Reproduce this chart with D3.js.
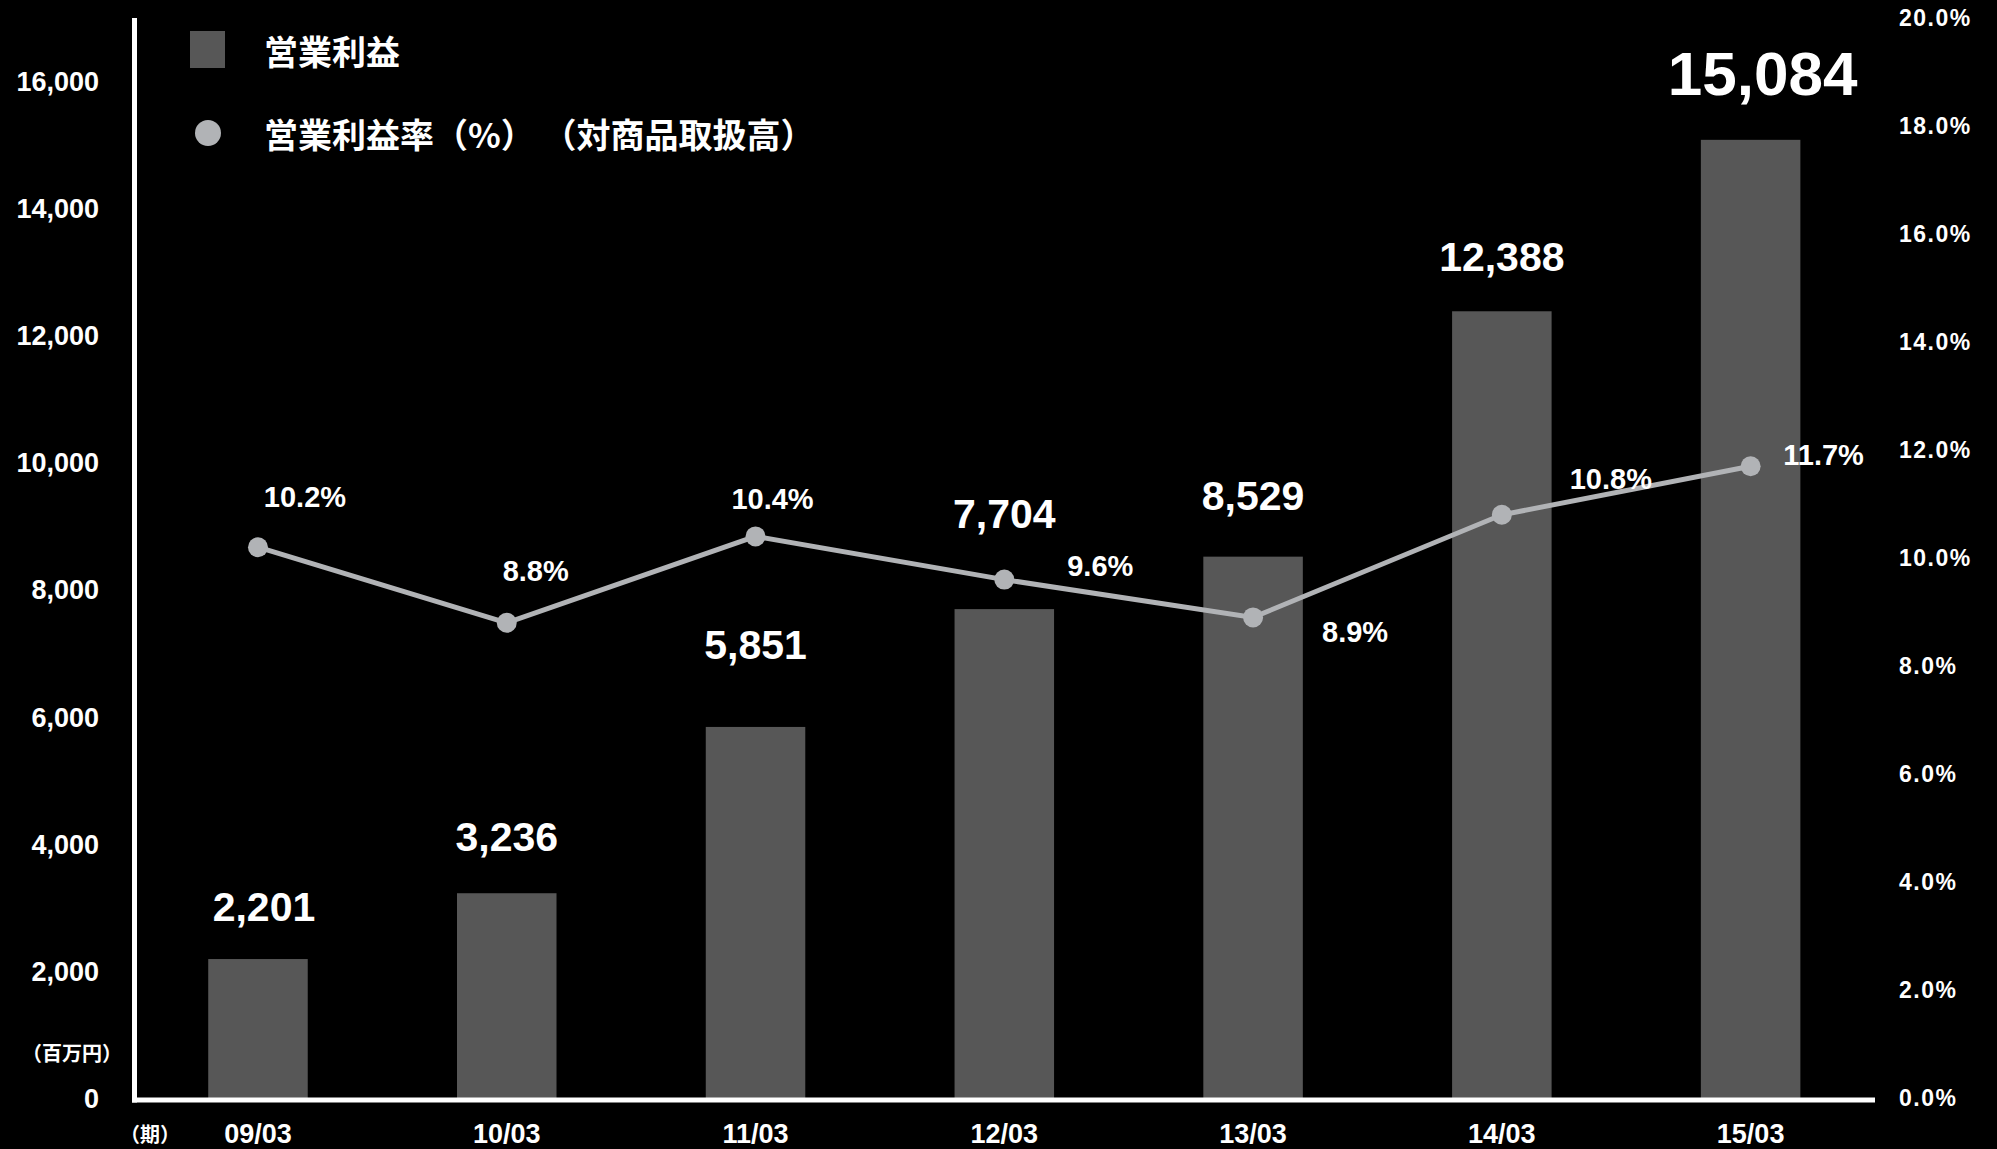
<!DOCTYPE html>
<html>
<head>
<meta charset="utf-8">
<script src="https://cdn.jsdelivr.net/npm/d3@7"></script>
<style>
  html, body { margin: 0; padding: 0; background: #000; }
  svg { display: block; }
  text { font-family: "Liberation Sans", "Noto Sans CJK JP", Arial, sans-serif; font-weight: bold; fill: #fff; }
  .cjk { font-family: "Noto Sans CJK JP", "Liberation Sans", sans-serif; font-weight: bold; }
</style>
</head>
<body>
<svg id="chart" width="1997" height="1149"></svg>
<script>
// ---- data ----
const categories = ["09/03", "10/03", "11/03", "12/03", "13/03", "14/03", "15/03"];
const operatingProfit = [2201, 3236, 5851, 7704, 8529, 12388, 15084];
const profitRate = [10.2, 8.8, 10.4, 9.6, 8.9, 10.8, 11.7];
const leftTicks = [0, 2000, 4000, 6000, 8000, 10000, 12000, 14000, 16000];
const rightTicks = [0, 2, 4, 6, 8, 10, 12, 14, 16, 18, 20];
const legendLabels = ["営業利益", "営業利益率（%） （対商品取扱高）"];

// ---- layout (not data) ----
const barLabelGap = [38, 42, 68, 81, 47, 40, 45];
const barLabelDx = [6, 0, 0, 0, 0, 0, 12];
const barLabelSize = [41, 41, 41, 41, 41, 41, 62];
const rateLabelDx = [47, 29, 17, 96, 102, 109, 73];
const rateLabelDy = [-40, -42, -27, -4, 25, -26, -1];

const svg = d3.select("#chart");
svg.append("rect").attr("width", 1997).attr("height", 1149).attr("fill", "#000");

const x = d3.scaleBand().domain(categories).range([133.6, 1875]).paddingInner(0.6).paddingOuter(0.3);
const yL = d3.scaleLinear().domain([0, 17000]).range([1099, 18]);
const yR = d3.scaleLinear().domain([0, 20]).range([1098, 18]);

const barColor = "#575757";
const lineColor = "#b1b3b6";

// bars
svg.append("g").selectAll("rect").data(operatingProfit).join("rect")
  .attr("x", (d, i) => x(categories[i]))
  .attr("width", x.bandwidth())
  .attr("y", d => yL(d))
  .attr("height", d => yL(0) - yL(d))
  .attr("fill", barColor);

// axes lines
svg.append("line").attr("x1", 134.5).attr("x2", 134.5).attr("y1", 18).attr("y2", 1102.5)
  .attr("stroke", "#fff").attr("stroke-width", 5);
svg.append("line").attr("x1", 132).attr("x2", 1875).attr("y1", 1100).attr("y2", 1100)
  .attr("stroke", "#fff").attr("stroke-width", 5);

// left tick labels
const leftAxis = d3.axisLeft(yL).tickValues(leftTicks).tickSize(0).tickPadding(0)
  .tickFormat(d3.format(","));
const gL = svg.append("g").attr("transform", "translate(99,0)").call(leftAxis);
gL.select(".domain").remove();
gL.selectAll("text").attr("font-size", 27).attr("fill", "#fff")
  .attr("font-family", "Liberation Sans, Arial, sans-serif").attr("font-weight", "bold");

// right tick labels
const rightAxis = d3.axisRight(yR).tickValues(rightTicks).tickSize(0).tickPadding(0)
  .tickFormat(d => d3.format(".1f")(d) + "%");
const gR = svg.append("g").attr("transform", "translate(1899,0)").call(rightAxis);
gR.select(".domain").remove();
gR.selectAll("text").attr("font-size", 23).attr("fill", "#fff").attr("letter-spacing", 1.5)
  .attr("font-family", "Liberation Sans, Arial, sans-serif").attr("font-weight", "bold");

// x axis labels
const xAxis = d3.axisBottom(x).tickSize(0).tickPadding(0);
const gX = svg.append("g").attr("transform", "translate(0,1124)").call(xAxis);
gX.select(".domain").remove();
gX.selectAll("text").attr("font-size", 27).attr("fill", "#fff")
  .attr("font-family", "Liberation Sans, Arial, sans-serif").attr("font-weight", "bold");

// unit labels
svg.append("text").attr("class", "cjk").attr("x", 72).attr("y", 1061)
  .attr("text-anchor", "middle").attr("font-size", 20).text("（百万円）");
svg.append("text").attr("class", "cjk").attr("x", 150).attr("y", 1142)
  .attr("text-anchor", "middle").attr("font-size", 20).text("（期）");

// line
const cx = (d, i) => x(categories[i]) + x.bandwidth() / 2;
const line = d3.line().x((d, i) => cx(d, i)).y(d => yR(d));
svg.append("path").datum(profitRate).attr("d", line)
  .attr("fill", "none").attr("stroke", lineColor).attr("stroke-width", 5);
svg.append("g").selectAll("circle").data(profitRate).join("circle")
  .attr("cx", cx).attr("cy", d => yR(d)).attr("r", 10).attr("fill", lineColor);

// rate labels
svg.append("g").selectAll("text").data(profitRate).join("text")
  .attr("x", (d, i) => cx(d, i) + rateLabelDx[i])
  .attr("y", (d, i) => yR(d) + rateLabelDy[i])
  .attr("text-anchor", "middle").attr("font-size", 29)
  .text(d => d3.format(".1f")(d) + "%");

// bar value labels
svg.append("g").selectAll("text").data(operatingProfit).join("text")
  .attr("x", (d, i) => cx(d, i) + barLabelDx[i])
  .attr("y", (d, i) => yL(d) - barLabelGap[i])
  .attr("text-anchor", "middle")
  .attr("font-size", (d, i) => barLabelSize[i])
  .text(d => d3.format(",")(d));

// legend
svg.append("rect").attr("x", 190).attr("y", 31).attr("width", 35).attr("height", 37).attr("fill", barColor);
svg.append("circle").attr("cx", 208).attr("cy", 133).attr("r", 13).attr("fill", lineColor);
svg.append("text").attr("class", "cjk").attr("x", 264).attr("y", 65).attr("font-size", 34).text(legendLabels[0]);
svg.append("text").attr("class", "cjk").attr("x", 264).attr("y", 148).attr("font-size", 34)
  .attr("xml:space", "preserve").style("white-space", "pre").text(legendLabels[1]);
</script>
</body>
</html>
